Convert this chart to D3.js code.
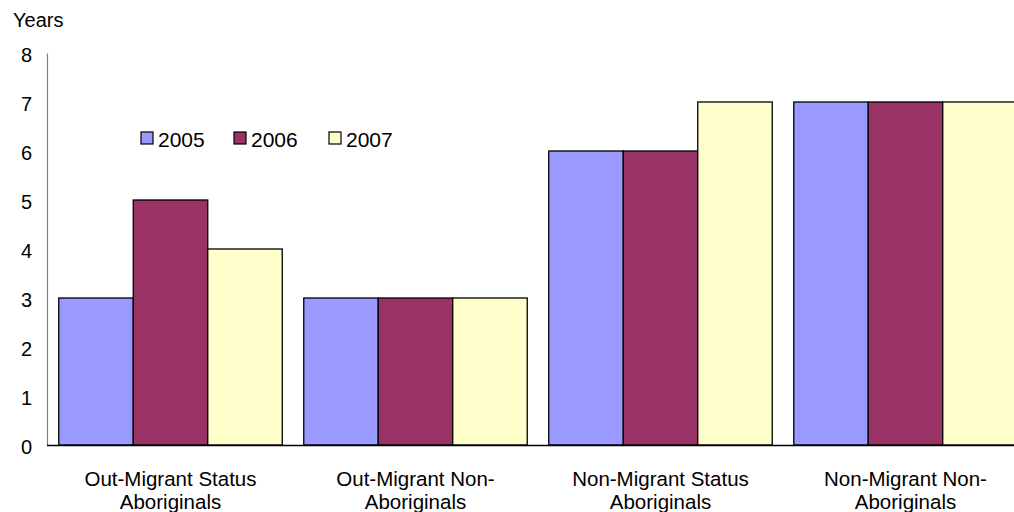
<!DOCTYPE html>
<html><head><meta charset="utf-8">
<script src="https://cdn.jsdelivr.net/npm/d3@7"></script>
<style>body{margin:0;background:#fff;overflow:hidden}text{font-family:"Liberation Sans",Arial,sans-serif;fill:#000}</style>
</head><body>
<svg id="c" width="1014" height="512"></svg>
<script>
const categories = [["Out-Migrant Status","Aboriginals"],["Out-Migrant Non-","Aboriginals"],["Non-Migrant Status","Aboriginals"],["Non-Migrant Non-","Aboriginals"]];
const seriesNames = ["2005","2006","2007"];
const colors = ["#9999FF","#993366","#FFFFCC"];
const v2005 = [3,3,6,7];
const v2006 = [5,3,6,7];
const v2007 = [4,3,7,7];
const yTicks = [0,1,2,3,4,5,6,7,8];
const series = [v2005, v2006, v2007];

const svg = d3.select("#c");
const x0 = d3.scaleBand().domain(d3.range(categories.length)).range([48, 1028]).paddingInner(0.0878).paddingOuter(0.0439);
const x1 = d3.scaleBand().domain(d3.range(seriesNames.length)).range([0, x0.bandwidth()]);
const y = d3.scaleLinear().domain([0,8]).range([445,53]);

// bars
series.forEach((vals, si) => {
  svg.append("g").selectAll("rect").data(vals).join("rect")
    .attr("x", (d,i) => x0(i) + x1(si))
    .attr("y", d => y(d))
    .attr("width", x1.bandwidth())
    .attr("height", d => y(0) - y(d))
    .attr("fill", colors[si])
    .attr("stroke", "#000").attr("stroke-width", 1.3);
});

// y axis
const yAxis = d3.axisLeft(y).tickValues(yTicks).tickSize(0).tickPadding(15);
const ga = svg.append("g").attr("transform","translate(47,0)").call(yAxis);
ga.select(".domain").attr("stroke","#808080").attr("stroke-width",1.2);
ga.selectAll("text").attr("dy","0.44em").style("font-size","20px").style("font-family","Liberation Sans, Arial, sans-serif");

// x axis line
svg.append("line").attr("x1",47).attr("x2",1014).attr("y1",445.5).attr("y2",445.5).attr("stroke","#000").attr("stroke-width",1.5);

// category labels
categories.forEach((lines, i) => {
  const cx = x0(i) + x0.bandwidth()/2;
  const t = svg.append("text").attr("text-anchor","middle").style("font-size","20.5px").attr("x", cx);
  lines.forEach((l, k) => t.append("tspan").attr("x", cx).attr("y", 486 + k*23).text(l));
});

// Years
svg.append("text").attr("x",13).attr("y",27).style("font-size","20px").text("Years");

// legend
const legX = [141, 234, 329];
seriesNames.forEach((n, i) => {
  svg.append("rect").attr("x", legX[i]).attr("y", 132).attr("width", 12).attr("height", 12)
    .attr("fill", colors[i]).attr("stroke","#000").attr("stroke-width",1.2);
  svg.append("text").attr("x", legX[i] + 17).attr("y", 147).style("font-size","21px").text(n);
});
</script>
</body></html>
